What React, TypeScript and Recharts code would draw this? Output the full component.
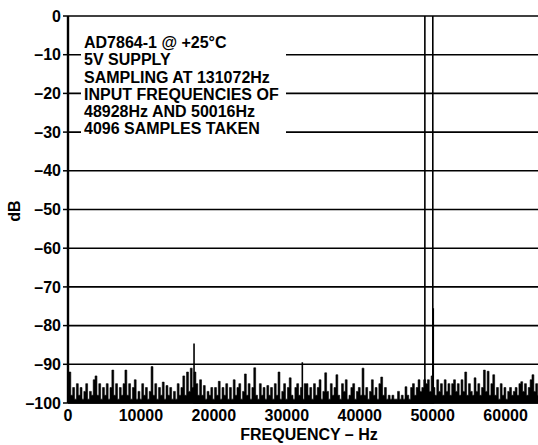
import React from 'react';
import { ComposedChart, CartesianGrid, XAxis, YAxis, Area, Line } from 'recharts';

// FFT of AD7864-1, 4096 samples; noise floor read every 256 Hz
const NOISE_STEP_HZ = 256;
const noiseDb = [
  -95, -92, -98, -96, -99, -95, -98, -96, -99, -97, -95, -99, -97, -98, -94, -93,
  -98, -95, -99, -96, -98, -95, -99, -96, -91.5, -98, -95, -99, -96, -98, -95, -91.5,
  -98, -95, -99, -96, -94, -99, -97, -99, -95, -98, -96, -99, -97, -90.6, -98, -95,
  -99, -96, -98, -94.6, -99, -95.5, -98, -96, -99, -97, -99, -95, -98, -96, -93, -98,
  -92, -97, -91, -96, -92, -95, -98, -94, -98, -95.5, -99, -97, -98, -96, -99, -96,
  -98, -94.4, -99, -96, -98, -95, -99, -96, -99, -94, -98, -96, -95, -99, -97, -92.5,
  -98, -95, -99, -96, -90.9, -98, -99, -95, -98, -96, -99, -95.5, -98, -96, -99, -95,
  -98, -92, -99, -97, -95, -99, -96, -93.5, -98, -99, -96, -95, -98, -96, -99, -95,
  -95, -98, -96, -99, -95, -98, -96, -94, -99, -97, -92.2, -97, -99, -95, -98, -96,
  -92.7, -98, -99, -95, -97, -94, -99, -98, -96, -95, -99, -97, -96, -98, -91, -98,
  -96, -99, -97, -94, -98, -96, -99, -95, -93.3, -98, -96, -99, -98, -99, -98, -99,
  -99, -97, -99, -98, -99, -95.8, -98, -99, -96, -95, -98, -96, -94, -97, -96, -94,
  -95, -94, -97, -93, -96, -98, -94, -97, -95, -98, -94, -97, -95, -98, -95, -94,
  -97, -95, -98, -94, -97, -92, -98, -95, -97, -98, -93.5, -97, -95, -98, -96, -91.5,
  -97, -91.8, -98, -95, -92.7, -98, -96, -99, -95, -98, -96, -99, -97, -96, -98, -97,
  -96, -98, -95, -94.5, -97, -95, -98, -96, -94, -92.7, -97, -95, -98, -96, -95, -97,
];

// tones and spurs
const spurHz = [17280, 32128, 48928, 50016, 50080];
const spurDb = [-84.6, -89.5, 0, 0, -75.5];

const xTicks = [0, 10000, 20000, 30000, 40000, 50000, 60000];
const yTicks = [0, -10, -20, -30, -40, -50, -60, -70, -80, -90, -100];
const Y_MIN = -100;

const noteLines = [
  'AD7864-1 @ +25°C',
  '5V SUPPLY',
  'SAMPLING AT 131072Hz',
  'INPUT FREQUENCIES OF',
  '48928Hz AND 50016Hz',
  '4096 SAMPLES TAKEN',
];

const noiseRows = noiseDb.map((db, i) => ({ f: i * NOISE_STEP_HZ, db }));
const spurRows = spurHz.flatMap((f, i) => [
  { f, db: Y_MIN },
  { f, db: spurDb[i] },
  { f, db: Y_MIN },
]);

const font = '"Liberation Sans", Arial, Helvetica, sans-serif';
const tickStyle = { fill: '#000', fontSize: 16, fontWeight: 'bold', fontFamily: font };

export default function App() {
  return (
    <div style={{ position: 'absolute', left: 0, top: 0, width: 538, height: 445, overflow: 'hidden', background: '#fff' }}>
      <ComposedChart
        width={560}
        height={445}
        data={noiseRows}
        margin={{ top: 16, right: 14, bottom: 12, left: 8 }}
      >
        <CartesianGrid vertical={false} stroke="#000" strokeWidth={1.6} />
        <XAxis
          type="number"
          dataKey="f"
          domain={[0, 65536]}
          ticks={xTicks}
          allowDataOverflow
          height={30}
          tickLine={false}
          tickSize={4}
          tickMargin={3}
          axisLine={{ stroke: '#000', strokeWidth: 1.5 }}
          tick={tickStyle}
        />
        <YAxis
          type="number"
          domain={[Y_MIN, 0]}
          ticks={yTicks}
          width={60}
          interval={0}
          tickSize={5}
          tickMargin={2}
          tickLine={{ stroke: '#000', strokeWidth: 1.5 }}
          axisLine={{ stroke: '#000', strokeWidth: 2.4 }}
          tick={tickStyle}
          tickFormatter={(v: number) => String(v).replace('-', '\u2013')}
        />
        <Area
          type="step"
          dataKey="db"
          baseValue={Y_MIN}
          stroke="#000"
          strokeWidth={0.6}
          fill="#000"
          fillOpacity={1}
          dot={false}
          isAnimationActive={false}
        />
        <Line
          data={spurRows}
          type="linear"
          dataKey="db"
          stroke="#000"
          strokeWidth={1.6}
          dot={false}
          isAnimationActive={false}
        />
      </ComposedChart>

      <div
        style={{
          position: 'absolute', left: 81, top: 34, width: 205, height: 106,
          background: '#fff', paddingLeft: 3, boxSizing: 'border-box',
          fontFamily: font, fontWeight: 'bold', fontSize: 16, lineHeight: '17.3px', color: '#000',
          whiteSpace: 'nowrap',
        }}
      >
        {noteLines.map((t) => (
          <div key={t}>{t}</div>
        ))}
      </div>

      <div
        style={{
          position: 'absolute', left: 15, top: 211, transform: 'translate(-50%, -50%) rotate(-90deg)',
          fontFamily: font, fontWeight: 'bold', fontSize: 16, color: '#000', whiteSpace: 'nowrap',
        }}
      >
        dB
      </div>
      <div
        style={{
          position: 'absolute', left: 309, top: 435, transform: 'translate(-50%, -50%)',
          fontFamily: font, fontWeight: 'bold', fontSize: 16, color: '#000', whiteSpace: 'nowrap',
        }}
      >
        FREQUENCY – Hz
      </div>
    </div>
  );
}
